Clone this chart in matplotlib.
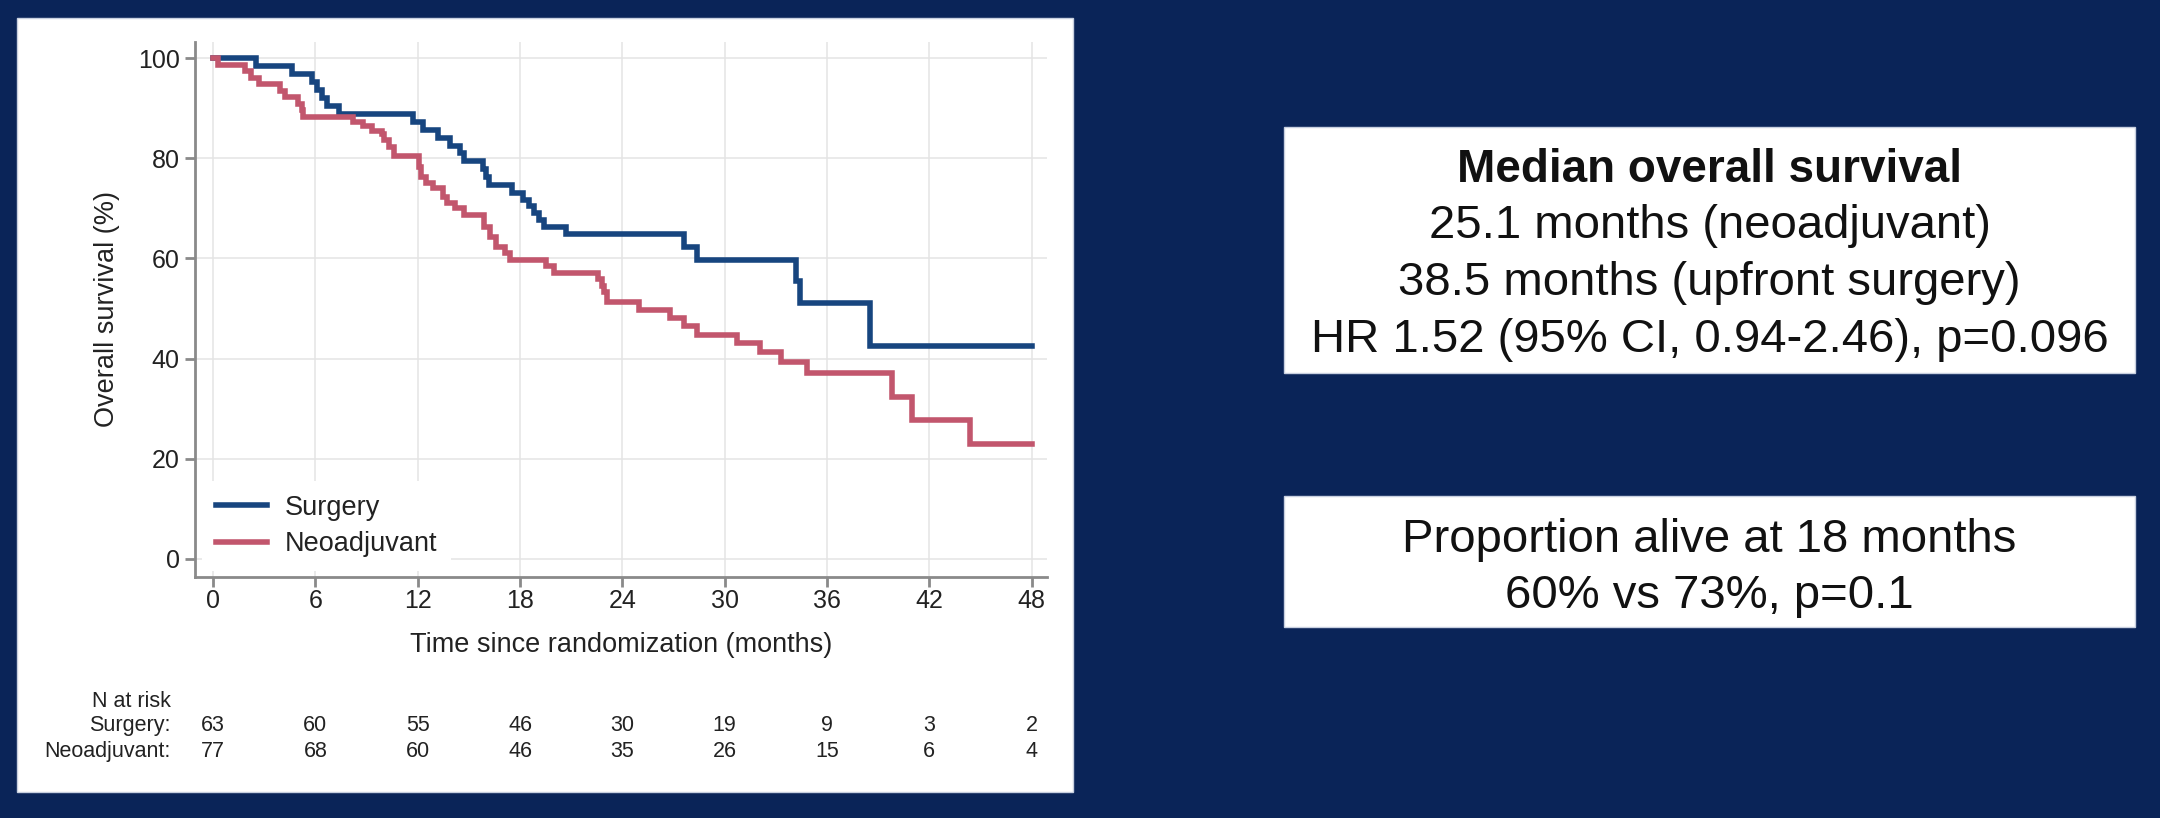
import matplotlib
matplotlib.use("Agg")
import matplotlib.pyplot as plt
from matplotlib.patches import Rectangle
from matplotlib.transforms import blended_transform_factory

# ---------------------------------------------------------
# Datos (leidos de la curva Kaplan-Meier de la figura)
# ---------------------------------------------------------
meses_cirugia = [0, 2.5, 4.6, 5.8, 6.1, 6.4, 6.7, 7.4, 11.75, 12.3, 13.2, 13.9,
                 14.5, 14.7, 15.8, 16.0, 16.2, 17.5, 18.2, 18.5, 18.8, 19.1,
                 19.4, 20.7, 27.6, 28.4, 34.2, 34.4, 38.5, 48]
sup_cirugia = [100, 98.4, 96.8, 95.2, 93.7, 92.1, 90.5, 88.9, 87.3, 85.7, 84.1,
               82.5, 81.0, 79.4, 77.8, 76.2, 74.6, 73.0, 71.7, 70.4, 69.0, 67.6,
               66.3, 64.9, 62.2, 59.7, 55.4, 51.0, 42.5, 42.5]

meses_neo = [0, 0.3, 1.9, 2.2, 2.7, 3.9, 4.2, 5.0, 5.2, 5.3, 8.2, 8.8, 9.3,
             9.9, 10.0, 10.3, 10.6, 12.1, 12.2, 12.5, 12.9, 13.5, 13.7, 14.2,
             14.7, 15.9, 16.25, 16.6, 17.1, 17.4, 19.5, 20.0, 22.6, 22.8, 22.9,
             23.1, 25.0, 26.8, 27.6, 28.4, 30.7, 32.1, 33.3, 34.8, 39.8, 41.0,
             44.4, 48]
sup_neo = [100, 98.7, 97.4, 96.1, 94.8, 93.5, 92.2, 90.9, 89.6, 88.3, 87.2,
           86.4, 85.5, 84.9, 83.6, 82.3, 80.5, 78.3, 76.3, 75.0, 74.0, 72.3,
           71.0, 70.0, 68.7, 66.3, 64.3, 62.3, 61.0, 59.7, 58.4, 57.1, 55.8,
           54.5, 53.2, 51.2, 49.7, 48.2, 46.6, 44.8, 43.2, 41.4, 39.4, 37.1,
           32.3, 27.7, 23.0, 23.0]

meses_riesgo = [0, 6, 12, 18, 24, 30, 36, 42, 48]
riesgo_cirugia = [63, 60, 55, 46, 30, 19, 9, 3, 2]
riesgo_neo = [77, 68, 60, 46, 35, 26, 15, 6, 4]

caja_mediana = ["Median overall survival",
                "25.1 months (neoadjuvant)",
                "38.5 months (upfront surgery)",
                "HR 1.52 (95% CI, 0.94-2.46), p=0.096"]
caja_18m = ["Proportion alive at 18 months",
            "60% vs 73%, p=0.1"]

# ---------------------------------------------------------
# Estilos
# ---------------------------------------------------------
plt.rcParams['font.family'] = ['Liberation Sans', 'DejaVu Sans']
AZUL_FONDO = '#0a2458'
AZUL = '#17457f'
ROJO = '#c2566d'
GRIS = '#8a8a8a'
TEXTO = '#222222'

W, H = 2160, 818


def fx(px):
    return px / W


def fy(py):
    return 1 - py / H


fig = plt.figure(figsize=(21.6, 8.18), dpi=100, facecolor=AZUL_FONDO)

# panel blanco de la grafica
fig.add_artist(Rectangle((fx(17), fy(792)), fx(1073) - fx(17), fy(18) - fy(792),
                         transform=fig.transFigure, facecolor='white',
                         edgecolor='#c8d0e0', linewidth=1, zorder=0))

# cajas de texto de la derecha
for y0, y1 in [(127, 373), (496, 627)]:
    fig.add_artist(Rectangle((fx(1284), fy(y1)), fx(2135) - fx(1284), fy(y0) - fy(y1),
                             transform=fig.transFigure, facecolor='white',
                             edgecolor='#c8d0e0', linewidth=1, zorder=0))

# ---------------------------------------------------------
# Curvas Kaplan-Meier
# ---------------------------------------------------------
ax = fig.add_axes([fx(195), fy(577), fx(1047) - fx(195), fy(42) - fy(577)])
ax.set_facecolor('none')

ax.step(meses_cirugia, sup_cirugia, where='post', color=AZUL, linewidth=4.0,
        solid_joinstyle='miter', label='Surgery', zorder=3)
ax.step(meses_neo, sup_neo, where='post', color=ROJO, linewidth=4.0,
        solid_joinstyle='miter', label='Neoadjuvant', zorder=3)

ax.set_xlim(-1.06, 48.9)
ax.set_ylim(-3.6, 103.2)
ax.set_xticks(meses_riesgo)
ax.set_yticks([0, 20, 40, 60, 80, 100])
ax.grid(True, color='#e4e4e4', linewidth=1.1, zorder=0)
ax.set_axisbelow(True)

for lado in ['top', 'right']:
    ax.spines[lado].set_visible(False)
for lado in ['left', 'bottom']:
    ax.spines[lado].set_color(GRIS)
    ax.spines[lado].set_linewidth(2)

ax.tick_params(axis='both', colors=GRIS, width=2, length=7, labelsize=18,
               labelcolor=TEXTO)
ax.tick_params(axis='x', pad=2)
ax.tick_params(axis='y', pad=4)

ax.set_xlabel('Time since randomization (months)', fontsize=19.5, color=TEXTO,
              labelpad=13)
ax.set_ylabel('Overall survival (%)', fontsize=19.5, color=TEXTO, labelpad=13)

leg = ax.legend(loc='upper left', bbox_to_anchor=(0.0088, 0.179), fontsize=19.5,
                frameon=True, facecolor='white', edgecolor='none', framealpha=1,
                fancybox=False, borderpad=0.5, labelspacing=0.38,
                handlelength=1.9, handletextpad=0.65, borderaxespad=0)
for txt in leg.get_texts():
    txt.set_color(TEXTO)

# ---------------------------------------------------------
# Tabla de pacientes en riesgo
# ---------------------------------------------------------
trans = blended_transform_factory(ax.transData, fig.transFigure)
fig.text(fx(171), fy(707), 'N at risk', ha='right', va='baseline',
         fontsize=15.5, color=TEXTO)
fig.text(fx(171), fy(731), 'Surgery:', ha='right', va='baseline',
         fontsize=15.5, color=TEXTO)
fig.text(fx(171), fy(757), 'Neoadjuvant:', ha='right', va='baseline',
         fontsize=15.5, color=TEXTO)
for m, n_c, n_n in zip(meses_riesgo, riesgo_cirugia, riesgo_neo):
    ax.text(m, fy(731), str(n_c), transform=trans, ha='center', va='baseline',
            fontsize=15.5, color=TEXTO, clip_on=False)
    ax.text(m, fy(757), str(n_n), transform=trans, ha='center', va='baseline',
            fontsize=15.5, color=TEXTO, clip_on=False)

# ---------------------------------------------------------
# Texto de las cajas
# ---------------------------------------------------------
xc = fx((1284 + 2135) / 2)
for i, (linea, base) in enumerate(zip(caja_mediana, [182, 238, 295, 352])):
    fig.text(xc, fy(base), linea, ha='center', va='baseline',
             fontsize=33 if i == 0 else 34, color='#111111',
             fontweight='bold' if i == 0 else 'normal')
for linea, base in zip(caja_18m, [552, 608]):
    fig.text(xc, fy(base), linea, ha='center', va='baseline', fontsize=34,
             color='#111111')

fig.savefig('out.png', dpi=100, facecolor=fig.get_facecolor())
